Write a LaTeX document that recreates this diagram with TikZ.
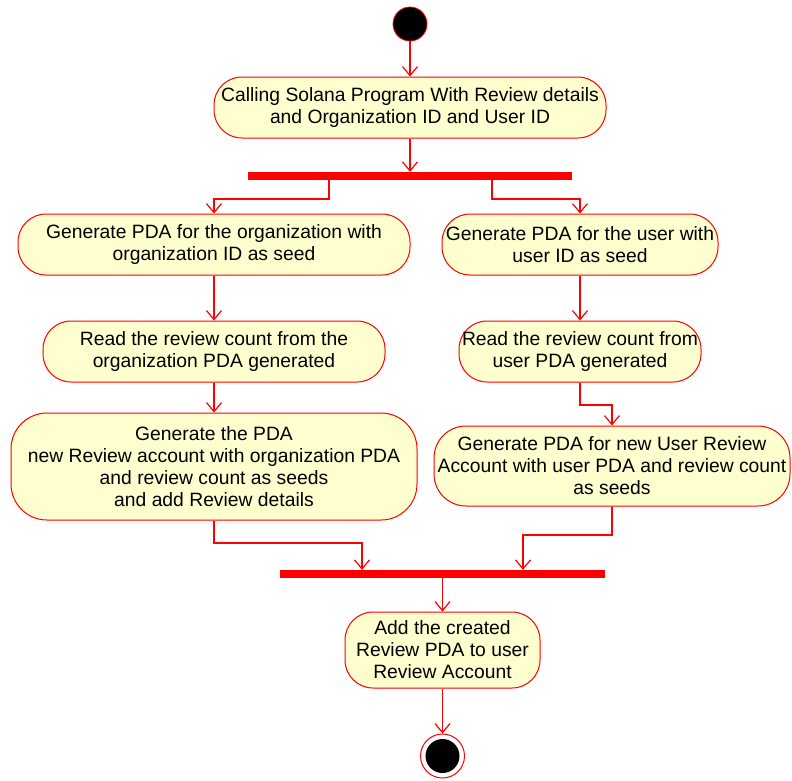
\documentclass[tikz,border=0pt]{standalone}
\usepackage{fontspec}
\setmainfont{Liberation Sans}
\usetikzlibrary{arrows.meta,calc}
\definecolor{boxfill}{HTML}{FEFECE}
\definecolor{lred}{HTML}{FF0000}
\begin{document}
\begin{tikzpicture}[x=1pt,y=-1pt,
  act/.style={draw=lred, fill=boxfill, line width=1pt, rounded corners=28pt, align=center, font=\fontsize{19.3}{22}\selectfont, inner sep=0pt},
  syncbar/.style={fill=lred, draw=none, inner sep=0pt, minimum height=8pt},
  flow/.style={draw=lred, line width=1.2pt, -{Straight Barb[length=9pt,width=15pt,line width=1.2pt]}}]
\useasboundingbox (0,0) rectangle (792,780);

\node[circle, fill=black, draw=lred, line width=0.8pt, minimum size=34pt, inner sep=0pt] (start) at (410,24) {};
\node[act, minimum width=392pt, minimum height=61pt] (b1) at (410,107.5) {Calling Solana Program With Review details\\and Organization ID and User ID};
\node[syncbar, minimum width=324pt] (fork) at (410,176) {};
\node[act, minimum width=392pt, minimum height=61pt] (b2L) at (214,244.5) {Generate PDA for the organization with\\organization ID as seed};
\node[act, minimum width=276pt, minimum height=61pt] (b2R) at (580,244.5) {Generate PDA for the user with\\user ID as seed};
\node[act, minimum width=342pt, minimum height=61pt] (b3L) at (214,351.5) {Read the review count from the\\organization PDA generated};
\node[act, minimum width=242pt, minimum height=61pt] (b3R) at (580,351.5) {Read the review count from\\user PDA generated};
\node[act, minimum width=406pt, minimum height=107pt, rounded corners=36pt] (b4L) at (214,466.5) {Generate the PDA\\new Review account with organization PDA\\and review count as seeds\\and add Review details};
\node[act, minimum width=356pt, minimum height=80pt, rounded corners=32pt] (b4R) at (612,466) {Generate PDA for new User Review\\Account with user PDA and review count\\as seeds};
\node[syncbar, minimum width=325pt] (join) at (442.5,574) {};
\node[act, minimum width=195pt, minimum height=76pt] (b5) at (442.5,650) {Add the created\\Review PDA to user\\Review Account};
\node[circle, draw=lred, fill=white, line width=1pt, minimum size=44pt, inner sep=0pt] (end) at (442.5,756) {};
\node[circle, fill=black, minimum size=34pt, inner sep=0pt] (endin) at (end) {};

\draw[flow] (start) -- (b1);
\draw[flow] (b1) -- (fork);
\draw[flow] (fork.south -| 329,0) -- (329,199) -| (b2L.north);
\draw[flow] (fork.south -| 492,0) -- (492,199) -| (b2R.north);
\draw[flow] (b2L) -- (b3L);
\draw[flow] (b2R) -- (b3R);
\draw[flow] (b3L) -- (b4L);
\draw[flow] (b3R.south) -- (580,405) -| (b4R.north);
\draw[flow] (b4L.south) -- (214,543) -| (join.north -| 362,0);
\draw[flow] (b4R.south) -- (612,535) -| (join.north -| 523,0);
\draw[flow] (join) -- (b5);
\draw[flow] (b5) -- (end);
\end{tikzpicture}
\end{document}
